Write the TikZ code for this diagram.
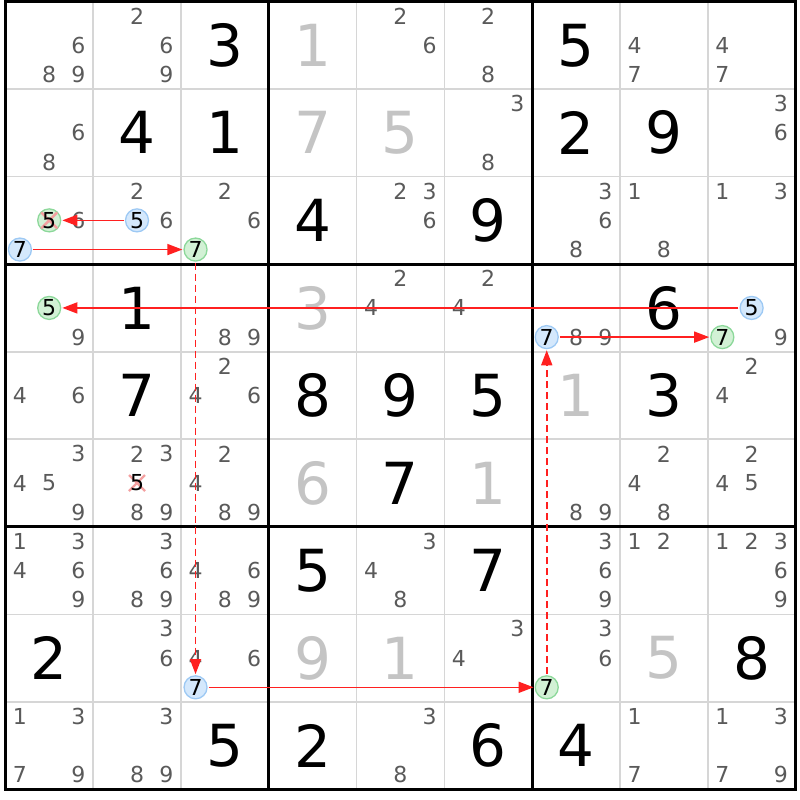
\documentclass[tikz,border=0pt]{standalone}
\usepackage{fontspec}
\setmainfont{DejaVu Sans}
\usetikzlibrary{arrows.meta}
\definecolor{candc}{HTML}{5A5A5A}
\definecolor{solvc}{HTML}{C4C4C4}
\definecolor{thinc}{HTML}{D6D6D6}
\definecolor{arrc}{HTML}{FF2020}
\definecolor{bluef}{HTML}{D4E8FC}
\definecolor{blued}{HTML}{9DC9F4}
\definecolor{greenf}{HTML}{D2F1D5}
\definecolor{greend}{HTML}{8CD89A}
\definecolor{crossc}{HTML}{F4A0A0}
\newcommand\CPOS[3]{%
  \pgfmathsetmacro\cx{5.3+(#2-1)*87.8+(mod(#3-1,3)+0.5)*29.2667}%
  \pgfmathsetmacro\cy{1.5+(#1-1)*87.55+(floor((#3-1)/3)+0.5)*29.1833}}
\newcommand\candD[3]{\CPOS{#1}{#2}{#3}\node[candst] (k#1#2#3) at (\cx,\cy) {#3};}
\newcommand\cellC[3]{\foreach \d in {#3}{\candD{#1}{#2}{\d}}}
\newcommand\givenD[3]{\node[givenst] (g#1#2) at ({5.3+(#2-0.5)*87.8},{1.5+(#1-0.5)*87.55}) {#3};}
\newcommand\solvD[3]{\node[solvst] (s#1#2) at ({5.3+(#2-0.5)*87.8},{1.5+(#1-0.5)*87.55}) {#3};}
\newcommand\circD[5]{\CPOS{#1}{#2}{#3}\node[#4] (#5) at (\cx,\cy) {#3};}
\begin{document}
\begin{tikzpicture}[x=1pt,y=-1pt,
  candst/.style={text=candc,font=\fontsize{22}{22}\selectfont,inner sep=0pt},
  givenst/.style={text=black,font=\fontsize{58}{58}\selectfont,inner sep=0pt},
  solvst/.style={text=solvc,font=\fontsize{58}{58}\selectfont,inner sep=0pt},
  bluec/.style={circle,draw=blued,fill=bluef,line width=1.3pt,minimum size=23pt,inner sep=0pt,text=black,font=\fontsize{22}{22}\selectfont},
  greenc/.style={circle,draw=greend,fill=greenf,line width=1.3pt,minimum size=23pt,inner sep=0pt,text=black,font=\fontsize{22}{22}\selectfont},
  plaintext/.style={text=black,font=\fontsize{22}{22}\selectfont,inner sep=0pt},
  crossst/.style={draw=crossc,line width=2.4pt},
  thinline/.style={draw=thinc,line width=1.6pt},
  thickline/.style={draw=black,line width=2.8pt,line cap=rect},
  arr/.style={draw=arrc,line width=1.6pt,-{Triangle[length=15pt,width=11pt]},shorten >=1pt,shorten <=1pt},
  dashline/.style={dash pattern=on 7pt off 4pt}]
\useasboundingbox (0,0) rectangle (800,800);
\fill[white] (0,0) rectangle (800,800);
% grid
\foreach \i in {1,2,4,5,7,8}{
  \draw[thinline] ({5.3+\i*87.8},1.5) -- ({5.3+\i*87.8},789.5);
  \draw[thinline] (5.3,{1.5+\i*87.55}) -- (795.5,{1.5+\i*87.55});}
\foreach \i in {0,3,6,9}{
  \draw[thickline] ({5.3+\i*87.8},1.5) -- ({5.3+\i*87.8},789.5);
  \draw[thickline] (5.3,{1.5+\i*87.55}) -- (795.5,{1.5+\i*87.55});}
% row 1
\cellC{1}{1}{6,8,9}\cellC{1}{2}{2,6,9}\givenD{1}{3}{3}\solvD{1}{4}{1}
\cellC{1}{5}{2,6}\cellC{1}{6}{2,8}\givenD{1}{7}{5}\cellC{1}{8}{4,7}\cellC{1}{9}{4,7}
% row 2
\cellC{2}{1}{6,8}\givenD{2}{2}{4}\givenD{2}{3}{1}\solvD{2}{4}{7}\solvD{2}{5}{5}
\cellC{2}{6}{3,8}\givenD{2}{7}{2}\givenD{2}{8}{9}\cellC{2}{9}{3,6}
% row 3
\cellC{3}{1}{6}\cellC{3}{2}{2,6}\cellC{3}{3}{2,6}\givenD{3}{4}{4}\cellC{3}{5}{2,3,6}
\givenD{3}{6}{9}\cellC{3}{7}{3,6,8}\cellC{3}{8}{1,8}\cellC{3}{9}{1,3}
% row 4
\cellC{4}{1}{9}\givenD{4}{2}{1}\cellC{4}{3}{8,9}\solvD{4}{4}{3}\cellC{4}{5}{2,4}
\cellC{4}{6}{2,4}\cellC{4}{7}{8,9}\givenD{4}{8}{6}\cellC{4}{9}{9}
% row 5
\cellC{5}{1}{4,6}\givenD{5}{2}{7}\cellC{5}{3}{2,4,6}\givenD{5}{4}{8}\givenD{5}{5}{9}
\givenD{5}{6}{5}\solvD{5}{7}{1}\givenD{5}{8}{3}\cellC{5}{9}{2,4}
% row 6
\cellC{6}{1}{3,4,5,9}\cellC{6}{2}{2,3,8,9}\cellC{6}{3}{2,4,8,9}\solvD{6}{4}{6}
\givenD{6}{5}{7}\solvD{6}{6}{1}\cellC{6}{7}{8,9}\cellC{6}{8}{2,4,8}\cellC{6}{9}{2,4,5}
% row 7
\cellC{7}{1}{1,3,4,6,9}\cellC{7}{2}{3,6,8,9}\cellC{7}{3}{4,6,8,9}\givenD{7}{4}{5}
\cellC{7}{5}{3,4,8}\givenD{7}{6}{7}\cellC{7}{7}{3,6,9}\cellC{7}{8}{1,2}\cellC{7}{9}{1,2,3,6,9}
% row 8
\givenD{8}{1}{2}\cellC{8}{2}{3,6}\cellC{8}{3}{4,6}\solvD{8}{4}{9}\solvD{8}{5}{1}
\cellC{8}{6}{3,4}\cellC{8}{7}{3,6}\solvD{8}{8}{5}\givenD{8}{9}{8}
% row 9
\cellC{9}{1}{1,3,7,9}\cellC{9}{2}{3,8,9}\givenD{9}{3}{5}\givenD{9}{4}{2}\cellC{9}{5}{3,8}
\givenD{9}{6}{6}\givenD{9}{7}{4}\cellC{9}{8}{1,7}\cellC{9}{9}{1,3,7,9}
% highlighted candidates
\CPOS{3}{1}{5}\node[greenc] (g5a) at (\cx,\cy) {};
\draw[crossst] ([shift={(-8,-8)}]g5a.center) -- ([shift={(8,8)}]g5a.center);
\draw[crossst] ([shift={(-8,8)}]g5a.center) -- ([shift={(8,-8)}]g5a.center);
\node[plaintext] (t5a) at (g5a.center) {5};
\circD{3}{2}{5}{bluec}{b5a}
\circD{3}{1}{7}{bluec}{b7a}
\circD{3}{3}{7}{greenc}{g7a}
\circD{8}{3}{7}{bluec}{b7b}
\circD{8}{7}{7}{greenc}{g7b}
\circD{4}{7}{7}{bluec}{b7c}
\circD{4}{9}{7}{greenc}{g7c}
\circD{4}{9}{5}{bluec}{b5b}
\circD{4}{1}{5}{greenc}{g5b}
% crossed candidate r6c2
\CPOS{6}{2}{5}\coordinate (x5) at (\cx,\cy);
\draw[crossst] ([shift={(-8,-8)}]x5) -- ([shift={(8,8)}]x5);
\draw[crossst] ([shift={(-8,8)}]x5) -- ([shift={(8,-8)}]x5);
\node[plaintext] (t5b) at (x5) {5};
% chain
\draw[arr] (b5a) -- (g5a);
\draw[arr] (b7a) -- (g7a);
\draw[arr,dashline] (g7a) -- (b7b);
\draw[arr] (b7b) -- (g7b);
\draw[arr,dashline] (g7b) -- (b7c);
\draw[arr] (b7c) -- (g7c);
\draw[arr] (b5b) -- (g5b);
\end{tikzpicture}
\end{document}
